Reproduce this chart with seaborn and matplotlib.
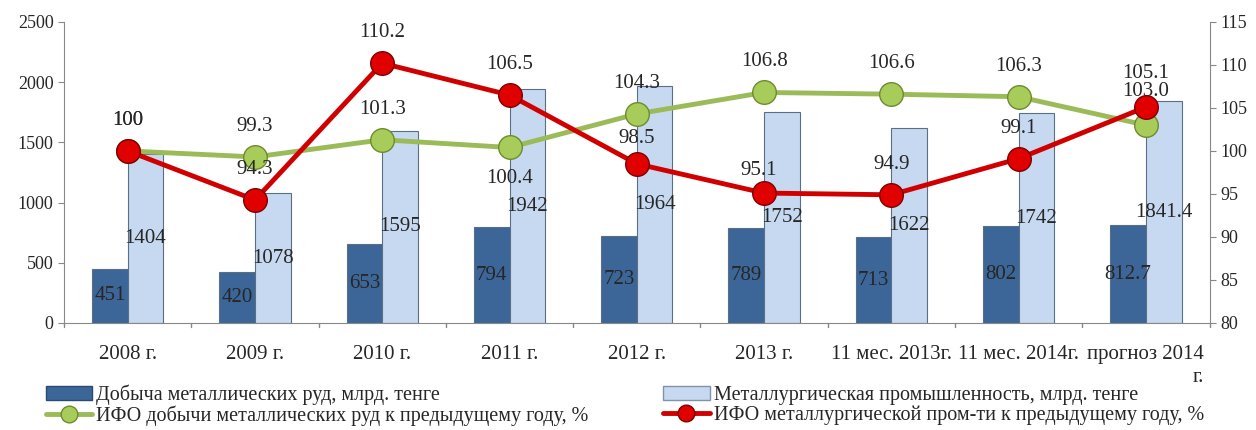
import numpy as np
import pandas as pd
import seaborn as sns
import matplotlib.pyplot as plt
from matplotlib.lines import Line2D
from matplotlib.patches import Patch

categories = ['2008 г.', '2009 г.', '2010 г.', '2011 г.', '2012 г.', '2013 г.',
              '11 мес. 2013г.', '11 мес. 2014г.', 'прогноз 2014\nг.']
ore_mining = [451, 420, 653, 794, 723, 789, 713, 802, 812.7]
metallurgy = [1404, 1078, 1595, 1942, 1964, 1752, 1622, 1742, 1841.4]
ore_index = [100, 99.3, 101.3, 100.4, 104.3, 106.8, 106.6, 106.3, 103.0]
met_index = [100, 94.3, 110.2, 106.5, 98.5, 95.1, 94.9, 99.1, 105.1]

ore_bar_labels = ['451', '420', '653', '794', '723', '789', '713', '802', '812.7']
met_bar_labels = ['1404', '1078', '1595', '1942', '1964', '1752', '1622', '1742', '1841.4']
ore_idx_labels = ['100', '99.3', '101.3', '100.4', '104.3', '106.8', '106.6', '106.3', '103.0']
met_idx_labels = ['100', '94.3', '110.2', '106.5', '98.5', '95.1', '94.9', '99.1', '105.1']

name_ore = 'Добыча металлических руд, млрд. тенге'
name_met = 'Металлургическая промышленность, млрд. тенге'
name_ore_idx = 'ИФО добычи металлических руд к предыдущему году, %'
name_met_idx = 'ИФО металлургической пром-ти к предыдущему году, %'

sns.set_style('white')
plt.rcParams['font.family'] = ['Liberation Serif', 'DejaVu Serif']

dark_blue = '#3C6698'
light_blue = '#C6D9F0'
green = '#9BBB59'
red = '#D00000'

df = pd.DataFrame({
    'cat': categories * 2,
    'value': ore_mining + metallurgy,
    'series': [name_ore] * len(categories) + [name_met] * len(categories),
})

fig = plt.figure(figsize=(12.56, 4.30), dpi=100)
ax = fig.add_axes([0.051, 0.249, 0.912, 0.700])

sns.barplot(data=df, x='cat', y='value', hue='series', order=categories,
            hue_order=[name_ore, name_met], palette=[dark_blue, light_blue],
            width=0.56, ax=ax, legend=False, saturation=1,
            edgecolor='#5a6e86', linewidth=0.8)

# value labels in the middle of each bar
for cont, labels in zip(ax.containers, [ore_bar_labels, met_bar_labels]):
    ax.bar_label(cont, labels=labels, label_type='center', fontsize=15)

ax.set_ylim(0, 2500)
ax.set_yticks(np.arange(0, 2501, 500))
ax.set_xlim(-0.5, len(categories) - 0.5)
ax.set_xlabel('')
ax.set_ylabel('')
ax.tick_params(axis='y', labelsize=13, length=4, color='#888888', direction='out', left=True)
ax.tick_params(axis='x', labelsize=15, length=0, pad=16)
ax.set_xticks(range(len(categories)))
ax.set_xticklabels(categories, multialignment='right', linespacing=1.3)
for xb in np.arange(-0.5, len(categories), 1.0):
    ax.plot([xb, xb], [0, -0.015], transform=ax.get_xaxis_transform(),
            color='#888888', lw=1, clip_on=False)
for s in ['top', 'right']:
    ax.spines[s].set_visible(False)
for s in ['left', 'bottom']:
    ax.spines[s].set_color('#888888')

ax2 = ax.twinx()
xs = np.arange(len(categories))
sns.lineplot(x=xs, y=ore_index, ax=ax2, color=green, lw=3.5, marker='o',
             markersize=17, markerfacecolor='#A8CC5A', markeredgecolor='#6E8B2E',
             markeredgewidth=1, zorder=3)
sns.lineplot(x=xs, y=met_index, ax=ax2, color=red, lw=3.5, marker='o',
             markersize=17, markerfacecolor='#E00000', markeredgecolor='#800000',
             markeredgewidth=1, zorder=4)
ax2.set_ylim(80, 115)
ax2.set_yticks(np.arange(80, 116, 5))
ax2.tick_params(axis='y', labelsize=13, length=4, color='#888888', direction='out', right=True)
for s in ['top', 'left', 'bottom']:
    ax2.spines[s].set_visible(False)
ax2.spines['right'].set_color('#888888')
ax2.set_xlim(-0.5, len(categories) - 0.5)

# label offsets in points (dx, dy); both "100" labels sit on the same spot as in the source
ore_off = [(0, 22), (0, 22), (0, 22), (0, -22), (0, 22), (0, 22), (0, 22), (0, 22), (0, 24)]
met_off = [(0, 22), (0, 22), (0, 22), (0, 22), (0, 18), (-4, 16), (0, 22), (0, 22), (0, 24)]
for i in range(len(categories)):
    ax2.annotate(ore_idx_labels[i], (xs[i], ore_index[i]), xytext=ore_off[i],
                 textcoords='offset points', ha='center', va='center', fontsize=15)
    ax2.annotate(met_idx_labels[i], (xs[i], met_index[i]), xytext=met_off[i],
                 textcoords='offset points', ha='center', va='center', fontsize=15)

handles = [
    Patch(facecolor=dark_blue, edgecolor='#2a4a70'),
    Line2D([], [], color=green, lw=3.5, marker='o', markersize=12,
           markerfacecolor='#A8CC5A', markeredgecolor='#6E8B2E'),
    Patch(facecolor=light_blue, edgecolor='#7f93ab'),
    Line2D([], [], color=red, lw=3.5, marker='o', markersize=12,
           markerfacecolor='#E00000', markeredgecolor='#800000'),
]
labels = [name_ore, name_ore_idx, name_met, name_met_idx]
fig.legend(handles, labels, ncol=2, loc='lower left', bbox_to_anchor=(0.027, -0.018),
           frameon=False, fontsize=14.5, labelspacing=0.0, handlelength=2.3,
           handletextpad=0.2, columnspacing=3.7, borderpad=0.1)

fig.savefig('out.png', dpi=100)
